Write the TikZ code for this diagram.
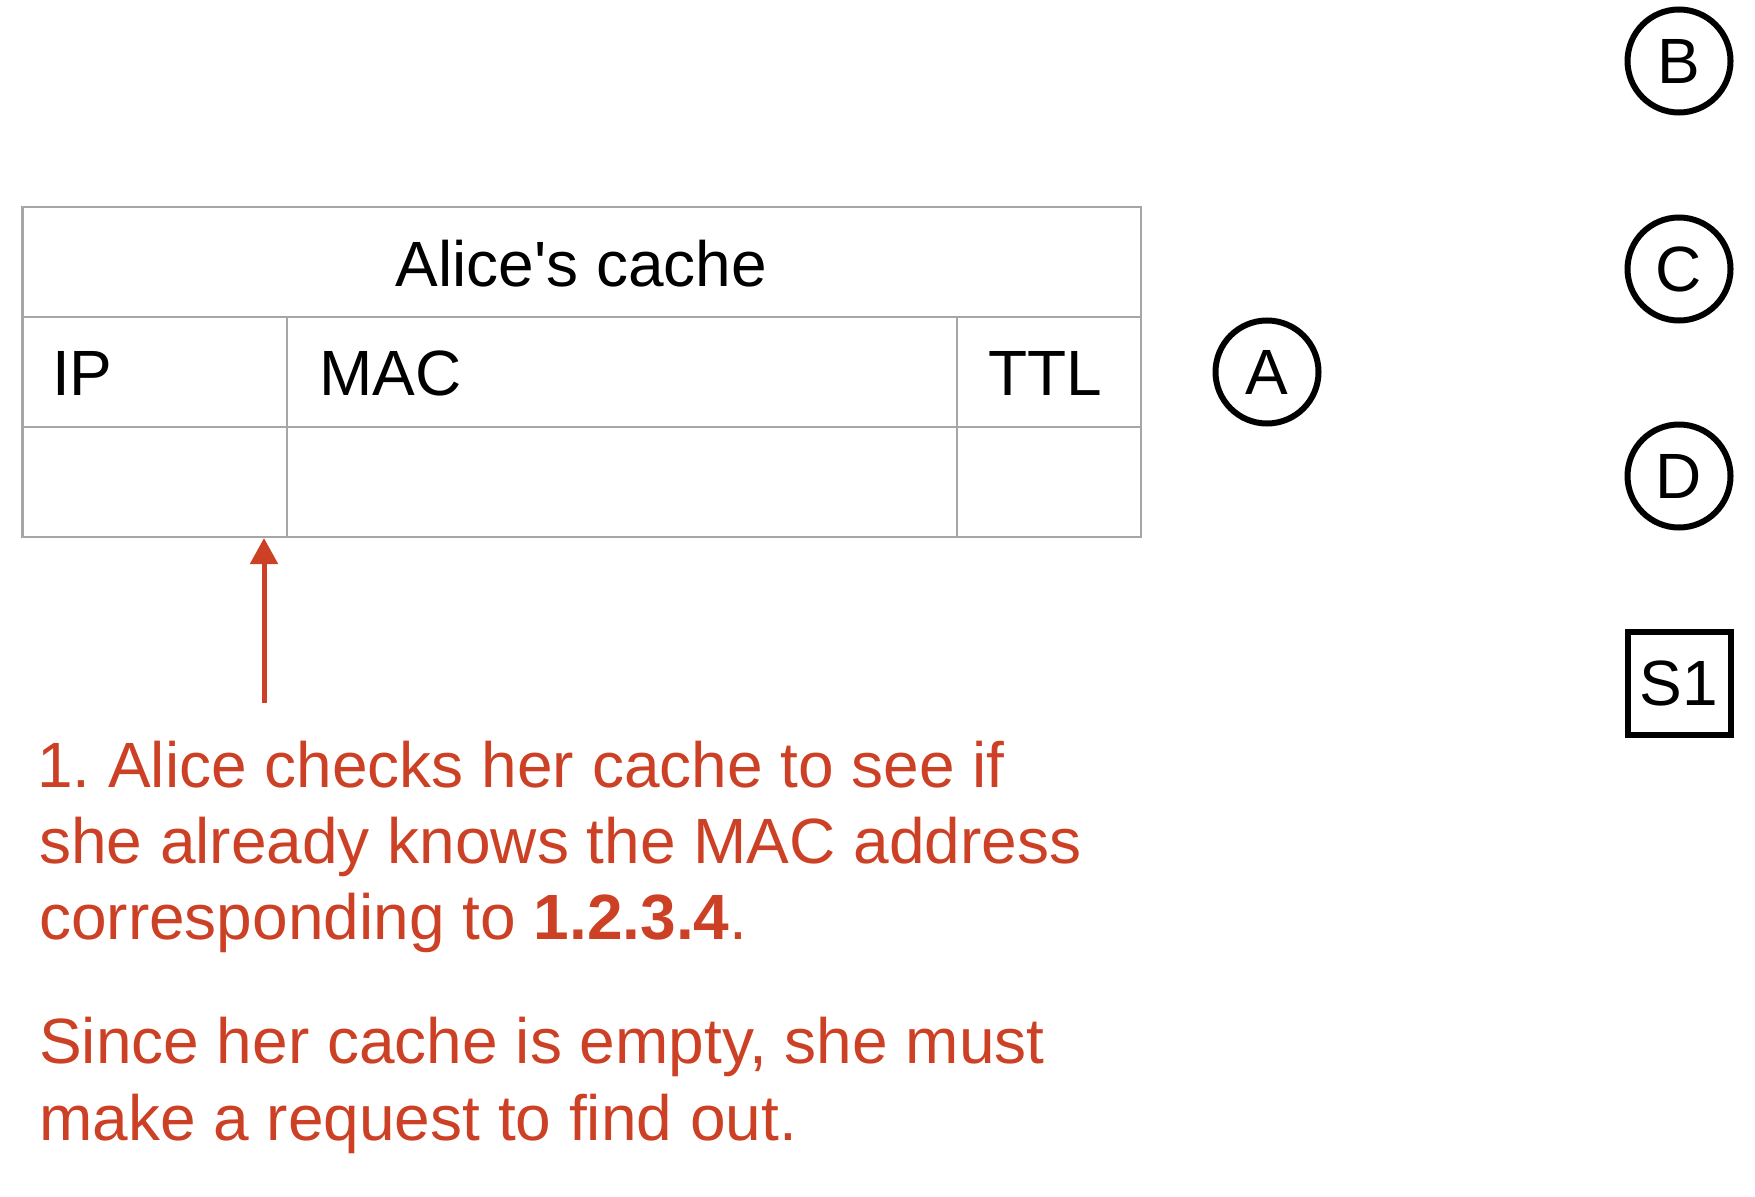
\documentclass[tikz,border=0pt]{standalone}
\usepackage{fontspec}
\setmainfont{Liberation Sans}
\usetikzlibrary{arrows.meta}
\definecolor{gridgray}{HTML}{A6A6A6}
\definecolor{notered}{HTML}{CC4125}
\frenchspacing
\tikzset{
  bigtext/.style={font=\fontsize{64}{76}\selectfont\frenchspacing, inner sep=0pt},
  celltext/.style={bigtext, anchor=base west, text=black},
  notetext/.style={bigtext, anchor=base west, text=notered},
  hostnode/.style={circle, draw=black, line width=6pt, minimum size=103pt, inner sep=0pt, bigtext},
  switchnode/.style={rectangle, draw=black, line width=6pt, minimum size=103pt, inner sep=0pt, bigtext},
  gridline/.style={draw=gridgray, line width=2.7pt},
  notearrow/.style={draw=notered, line width=5pt, -{Triangle[width=27pt,length=26pt]}}
}
\begin{document}
\begin{tikzpicture}[x=1pt,y=-1pt]
\useasboundingbox (0,0) rectangle (1755,1196);
% table
\draw[gridline] (22.5,207) rectangle (1141,537);
\draw[gridline] (22.5,317) -- (1141,317);
\draw[gridline] (22.5,427) -- (1141,427);
\draw[gridline] (287,317) -- (287,537);
\draw[gridline] (957,317) -- (957,537);
\node[bigtext, anchor=base] (title) at (581.5,286) {Alice\textquotesingle s cache};
\node[celltext] (ip) at (52,395) {IP};
\node[celltext] (mac) at (319,395) {MAC};
\node[celltext] (ttl) at (988,395) {TTL};
% hosts
\node[hostnode] (A) at (1267,372) {A};
\node[hostnode] (B) at (1679,61) {B};
\node[hostnode] (C) at (1679,269) {C};
\node[hostnode] (D) at (1679,476) {D};
\node[switchnode] (S1) at (1679,683) {S1};
% arrow
\coordinate (arrowtail) at (264,703);
\coordinate (arrowtip) at (264,538);
\draw[notearrow] (arrowtail) -- (arrowtip);
% note
\node[notetext] (l1) at (37,787) {1. Alice checks her cache to see if};
\node[notetext] (l2) at (39,863) {she already knows the MAC address};
\node[notetext] (l3) at (39,939) {corresponding to \textbf{1.2.3.4}.};
\node[notetext] (l4) at (39,1063) {Since her cache is empty, she must};
\node[notetext] (l5) at (39,1140) {make a request to find out.};
\end{tikzpicture}
\end{document}
